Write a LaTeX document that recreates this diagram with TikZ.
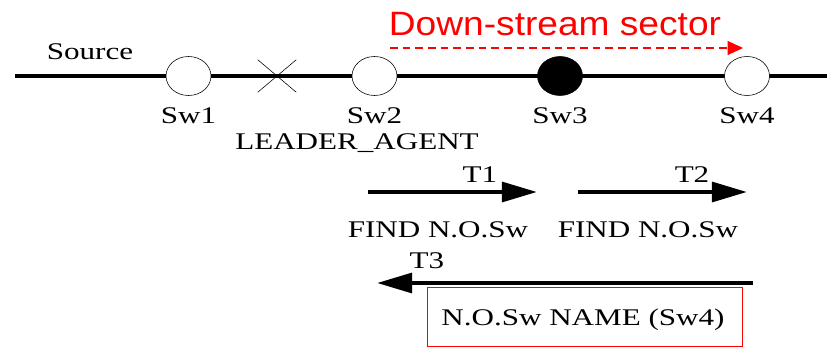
\documentclass[tikz,border=0pt]{standalone}
\usepackage{fontspec}
\setmainfont[FakeStretch=1.3]{Liberation Serif}
\setsansfont[FakeStretch=1.1]{Liberation Sans}
\usepackage{tikz}
\usetikzlibrary{arrows,arrows.meta,shapes.geometric,positioning}
\newlength{\pxunit}\setlength{\pxunit}{0.025cm}
\tikzset{%
  >=latex,
  sw/.style={draw,ellipse,thin,minimum width=45\pxunit,minimum height=39\pxunit,inner sep=0pt,fill=white},
  lbl/.style={font=\fontsize{17}{19}\selectfont,inner sep=0pt,anchor=base},
  msg/.style={draw,line width=3pt,-{Triangle[length=25pt,width=14pt]}},
  sector/.style={draw=red,dash pattern=on 5.5pt off 3.5pt,line width=0.8pt}
}
\begin{document}
\begin{tikzpicture}[x=0.025cm,y=-0.025cm]
  \useasboundingbox (0,0) rectangle (827,347);
  % the feeder
  \coordinate (start) at (15,76);
  \coordinate (stop) at (827,76);
  \draw[line width=3.2pt] (start) -- (stop);
  \node[sw] (sw1) at (188.5,76) {};
  \node[sw] (sw2) at (374.5,76) {};
  \node[sw,fill=black] (sw3) at (560,76) {};
  \node[sw] (sw4) at (747,76) {};
  \node[lbl] (source) at (90,60) {Source};
  \node[lbl] (sw1l) at (188.5,124) {Sw1};
  \node[lbl] (sw2l) at (374.5,124) {Sw2};
  \node[lbl] (sw3l) at (560,124) {Sw3};
  \node[lbl] (sw4l) at (747,124) {Sw4};
  \node[lbl] (leader) at (357,150) {LEADER\_AGENT};
  % fault
  \node[draw=none,inner sep=0pt,minimum width=38\pxunit,minimum height=32\pxunit] (fault) at (277,76) {};
  \draw[thin] (fault.north west) -- (fault.south east) (fault.south west) -- (fault.north east);
  % down-stream sector
  \node[lbl,text=red,font=\sffamily\fontsize{24}{26}\selectfont] (ds) at (555,36) {Down-stream sector};
  \coordinate (ds1) at (390,48);
  \coordinate (ds2) at (743,48);
  \draw[sector,-{Triangle[length=11pt,width=10pt]}] (ds1) -- (ds2);
  % messages
  \coordinate (t1a) at (368,192); \coordinate (t1b) at (537,192);
  \coordinate (t2a) at (578,192); \coordinate (t2b) at (747,192);
  \coordinate (t3a) at (753,283); \coordinate (t3b) at (377,283);
  \draw[msg] (t1a) -- (t1b);
  \draw[msg] (t2a) -- (t2b);
  \draw[msg] (t3a) -- (t3b);
  \node[lbl] (t1) at (480,183) {T1};
  \node[lbl] (t2) at (692,183) {T2};
  \node[lbl] (t3) at (427,268) {T3};
  \node[lbl] (find1) at (438,237) {FIND N.O.Sw};
  \node[lbl] (find2) at (648,237) {FIND N.O.Sw};
  \node[draw=red,thin,inner sep=0pt,minimum width=315\pxunit,minimum height=59\pxunit] (box) at (584.5,316.5) {};
  \node[lbl] (name) at (583,325) {N.O.Sw NAME (Sw4)};
\end{tikzpicture}
\end{document}
